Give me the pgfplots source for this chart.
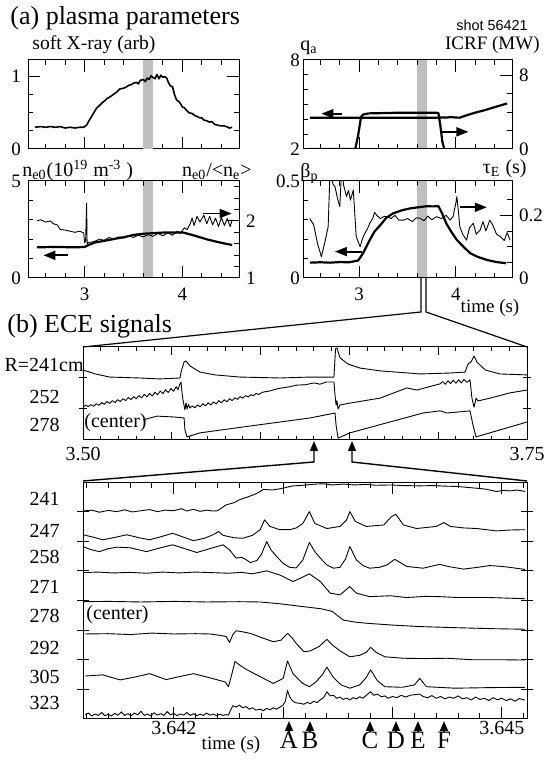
\documentclass[border=0pt]{standalone}
\usepackage{fontspec}
\setmainfont{Liberation Serif}
\newfontfamily\sansf{Liberation Sans}
\usepackage{pgfplots}
\pgfplotsset{compat=1.18}
\usetikzlibrary{arrows.meta}
\tikzset{arr/.style={line width=0.9pt, -{Triangle[length=6pt,width=4.5pt]}}}
\pgfplotsset{
  base/.style={scale only axis, anchor=south west, axis line style={line width=0.5pt},
    tick style={line width=0.5pt, black},
    tick label style={font=\fontsize{9.5}{10}\selectfont}},
  tp/.style={base, xmin=2.42, xmax=4.58, xtick={3,4},
    minor xtick={2.6,2.8,3.2,3.4,3.6,3.8,4.2,4.4},
    major tick length=6pt, minor tick length=2.5pt},
  thickl/.style={line width=1.1pt, black, no markers, line join=round},
  medl/.style={line width=0.8pt, black, no markers, line join=round},
  thinl/.style={line width=0.45pt, black, no markers, line join=round},
}
\begin{document}
\begin{tikzpicture}[x=0.5pt,y=0.5pt]
\path[use as bounding box] (0,0) rectangle (548,763);

% ---------------- (a) top-left: soft X-ray
\begin{axis}[tp, at={(14pt,307pt)}, width=105.5pt, height=44.5pt, ymin=0, ymax=1.23,
  ytick={0,1}, yticklabels={0,1}, minor ytick={0.25,0.5,0.75},
  ytick pos=both, yticklabel pos=left, xticklabels={}]
\fill[gray!50] (3.6,0) rectangle (3.7,1.23);
\addplot[medl] coordinates {(2.49,0.30)(2.55,0.31)(2.60,0.30)(2.65,0.31)(2.70,0.30)(2.75,0.31)(2.80,0.29)(2.85,0.30)(2.90,0.29)(2.95,0.30)(2.99,0.30)(3.02,0.33)(3.04,0.38)(3.08,0.47)(3.12,0.56)(3.15,0.60)(3.18,0.64)(3.20,0.66)(3.23,0.70)(3.26,0.72)(3.30,0.76)(3.33,0.79)(3.36,0.83)(3.40,0.84)(3.43,0.86)(3.45,0.88)(3.48,0.89)(3.50,0.91)(3.53,0.92)(3.55,0.90)(3.57,0.95)(3.60,0.96)(3.62,0.93)(3.64,0.98)(3.66,0.96)(3.68,1.01)(3.70,0.99)(3.72,0.97)(3.74,1.03)(3.76,0.97)(3.78,1.02)(3.80,0.99)(3.82,1.0)(3.84,0.98)(3.86,0.91)(3.88,0.87)(3.90,0.86)(3.92,0.75)(3.94,0.68)(3.96,0.66)(3.98,0.63)(4.0,0.58)(4.02,0.57)(4.04,0.54)(4.07,0.50)(4.10,0.49)(4.13,0.46)(4.15,0.45)(4.18,0.43)(4.20,0.43)(4.22,0.40)(4.25,0.39)(4.28,0.37)(4.30,0.38)(4.33,0.34)(4.36,0.33)(4.39,0.32)(4.42,0.32)(4.45,0.31)(4.48,0.29)(4.51,0.30)};
\end{axis}

% ---------------- top-right: q_a (left) and ICRF (right)
\begin{axis}[tp, at={(151.5pt,307pt)}, width=104.5pt, height=44.5pt, ymin=2, ymax=8,
  ytick={2,8}, yticklabels={2,8}, minor ytick={3,4,5,6,7}, ytick pos=left, xticklabels={},
  yticklabel style={xshift=2pt}]
\fill[gray!50] (3.6,2) rectangle (3.7,8);
\addplot[thickl] coordinates {(2.49,4.11)(3.0,4.11)(3.5,4.11)(3.80,4.11)(3.85,4.13)(3.90,4.12)(3.95,4.15)(4.0,4.12)(4.04,4.11)(4.10,4.25)(4.2,4.45)(4.3,4.62)(4.4,4.82)(4.53,5.07)};
\draw[arr] (2.82,4.38) -- (2.61,4.38);
\end{axis}
\begin{axis}[tp, at={(151.5pt,307pt)}, width=104.5pt, height=44.5pt, ymin=0, ymax=9.7,
  ytick={0,8}, yticklabels={0,8}, minor ytick={2,4,6}, ytick pos=right, yticklabel pos=right, xticklabels={}]
\addplot[thickl] coordinates {(2.49,0)(2.96,0)(2.99,1.5)(3.02,3.5)(3.04,3.75)(3.1,3.88)(3.2,3.9)(3.4,3.95)(3.6,3.95)(3.8,3.95)(3.82,3.9)(3.84,2.5)(3.86,0.8)(3.88,0)};
\draw[arr] (3.85,1.87) -- (4.13,1.87);
\end{axis}

% ---------------- bottom-left: n_e0 (left) and n_e0/<n_e> (right)
\begin{axis}[tp, at={(14pt,242.5pt)}, width=105.5pt, height=48.5pt, ymin=0, ymax=5,
  ytick={0,5}, yticklabels={0,5}, minor ytick={1,2,3,4}, ytick pos=left,
  xticklabels={3,4}, xticklabel style={yshift=-1.3pt}]
\fill[gray!50] (3.6,0) rectangle (3.7,5);
\addplot[thickl] coordinates {(2.51,1.58)(2.7,1.6)(2.9,1.58)(3.0,1.6)(3.04,1.70)(3.1,1.82)(3.15,1.87)(3.25,1.96)(3.33,2.04)(3.42,2.12)(3.50,2.22)(3.6,2.28)(3.7,2.31)(3.8,2.34)(3.9,2.34)(4.01,2.34)(4.1,2.22)(4.18,2.10)(4.26,1.98)(4.35,1.87)(4.43,1.78)(4.51,1.70)};
\draw[arr] (2.83,1.17) -- (2.577,1.17);
\end{axis}
\begin{axis}[tp, at={(14pt,242.5pt)}, width=105.5pt, height=48.5pt, ymin=1, ymax=2.7,
  ytick={1,2}, yticklabels={1,2}, minor ytick={1.2,1.4,1.6,1.8,2.2,2.4,2.6}, ytick pos=right,
  yticklabel pos=right, xticklabels={}]
\addplot[thinl] coordinates {(2.51,2.0)(2.55,2.02)(2.6,1.98)(2.65,2.0)(2.68,1.95)(2.72,1.93)(2.75,1.85)(2.8,1.84)(2.85,1.82)(2.9,1.80)(2.95,1.82)(2.99,1.79)(3.0,1.62)(3.01,1.65)(3.02,2.31)(3.025,1.6)(3.04,1.62)(3.1,1.64)(3.15,1.68)(3.2,1.66)(3.25,1.71)(3.3,1.68)(3.35,1.72)(3.4,1.7)(3.45,1.74)(3.5,1.71)(3.55,1.75)(3.6,1.72)(3.65,1.76)(3.7,1.73)(3.75,1.78)(3.8,1.74)(3.85,1.79)(3.9,1.75)(3.95,1.82)(3.98,1.78)(4.02,1.88)(4.05,1.85)(4.08,1.95)(4.1,2.05)(4.12,1.92)(4.15,2.08)(4.18,1.98)(4.22,2.1)(4.25,1.95)(4.28,2.08)(4.31,1.93)(4.34,2.05)(4.37,1.9)(4.4,2.06)(4.43,1.92)(4.46,2.04)(4.49,1.9)(4.51,2.02)};
\draw[arr] (4.215,2.13) -- (4.505,2.13);
\end{axis}

% ---------------- bottom-right: beta_p (left) and tau_E (right)
\begin{axis}[tp, at={(151.5pt,242.5pt)}, width=104.5pt, height=48.5pt, ymin=0, ymax=0.5,
  ytick={0,0.5}, yticklabels={0,0.5}, minor ytick={0.1,0.2,0.3,0.4}, ytick pos=left,
  xticklabels={3,4}, xticklabel style={yshift=-1.3pt}, yticklabel style={xshift=2pt}]
\fill[gray!50] (3.6,0) rectangle (3.7,0.5);
\addplot[thickl] coordinates {(2.49,0.079)(2.6,0.081)(2.7,0.079)(2.8,0.082)(2.9,0.081)(2.99,0.09)(3.04,0.127)(3.11,0.196)(3.16,0.24)(3.22,0.273)(3.28,0.31)(3.35,0.333)(3.45,0.35)(3.53,0.359)(3.62,0.365)(3.70,0.37)(3.76,0.369)(3.82,0.37)(3.86,0.33)(3.90,0.282)(3.95,0.24)(4.01,0.196)(4.08,0.16)(4.15,0.127)(4.22,0.11)(4.32,0.093)(4.42,0.082)(4.52,0.076)};
\draw[arr] (3.03,0.136) -- (2.75,0.136);
\end{axis}
\begin{axis}[tp, at={(151.5pt,242.5pt)}, width=104.5pt, height=48.5pt, ymin=0, ymax=0.31,
  ytick={0,0.2}, yticklabels={0,0.2}, minor ytick={0.05,0.1,0.15,0.25}, ytick pos=right,
  yticklabel pos=right, xticklabels={}]
\addplot[thinl] coordinates {(2.49,0.19)(2.53,0.17)(2.57,0.11)(2.61,0.068)(2.65,0.12)(2.68,0.164)(2.70,0.35)(2.73,0.3)(2.75,0.292)(2.78,0.25)(2.80,0.228)(2.82,0.35)(2.84,0.296)(2.87,0.26)(2.89,0.28)(2.91,0.249)(2.94,0.281)(2.97,0.132)(3.01,0.10)(3.04,0.13)(3.06,0.143)(3.09,0.16)(3.11,0.175)(3.14,0.19)(3.16,0.21)(3.18,0.201)(3.22,0.19)(3.26,0.197)(3.29,0.196)(3.33,0.19)(3.37,0.2)(3.41,0.185)(3.46,0.185)(3.5,0.19)(3.55,0.18)(3.59,0.192)(3.63,0.191)(3.67,0.183)(3.71,0.198)(3.75,0.186)(3.80,0.196)(3.85,0.19)(3.90,0.2)(3.94,0.185)(3.97,0.196)(4.0,0.24)(4.01,0.26)(4.03,0.2)(4.04,0.164)(4.07,0.14)(4.11,0.121)(4.14,0.16)(4.18,0.175)(4.21,0.14)(4.25,0.153)(4.28,0.18)(4.31,0.15)(4.35,0.185)(4.38,0.17)(4.42,0.14)(4.46,0.132)(4.5,0.12)(4.53,0.145)(4.56,0.121)};
\draw[arr] (4.04,0.226) -- (4.32,0.226);
\end{axis}

% ---------------- (b) middle ECE panel 3.50-3.75 s
\begin{axis}[base, at={(41.5pt,161.5pt)}, width=222pt, height=46.5pt, xmin=3.5, xmax=3.75, ymin=0, ymax=3,
  xtick={3.5,3.55,3.6,3.65,3.7,3.75}, xticklabels={3.50,,,,,3.75}, minor x tick num=4,
  ytick={1,2}, yticklabels={}, ytick align=center, major tick length=4pt, minor tick length=2pt,
  tick label style={font=\fontsize{10}{11}\selectfont}]
\addplot[thinl] coordinates {(3.500,2.26)(3.507,2.13)(3.515,2.03)(3.532,2.0)(3.543,1.97)(3.5546,2.0)(3.5552,2.19)(3.5569,2.52)(3.558,2.55)(3.5602,2.39)(3.5659,2.19)(3.5743,2.10)(3.5884,2.03)(3.6109,2.0)(3.6278,2.03)(3.6413,2.03)(3.6422,2.94)(3.643,2.97)(3.6447,2.65)(3.6492,2.45)(3.656,2.32)(3.6672,2.23)(3.6898,2.13)(3.7066,2.16)(3.7151,2.19)(3.7168,2.45)(3.7185,2.52)(3.7202,2.71)(3.7218,2.52)(3.7264,2.26)(3.7348,2.13)(3.75,2.10)};
\addplot[thinl] coordinates {(3.5000,1.06)(3.5015,1.12)(3.5030,1.08)(3.5045,1.14)(3.5060,1.09)(3.5075,1.17)(3.5090,1.12)(3.5105,1.21)(3.5120,1.15)(3.5135,1.24)(3.5150,1.18)(3.5165,1.27)(3.5180,1.21)(3.5195,1.30)(3.5210,1.24)(3.5225,1.33)(3.5240,1.27)(3.5255,1.37)(3.5270,1.30)(3.5285,1.40)(3.5300,1.33)(3.5315,1.43)(3.5330,1.36)(3.5345,1.47)(3.5360,1.39)(3.5375,1.50)(3.5390,1.42)(3.5405,1.54)(3.5420,1.46)(3.5435,1.58)(3.5450,1.49)(3.5465,1.62)(3.5480,1.53)(3.5495,1.66)(3.5510,1.57)(3.5525,1.72)(3.5535,1.62)(3.5545,1.80)(3.5552,1.86)(3.5558,1.5)(3.5563,1.29)(3.5574,0.97)(3.5580,1.2)(3.5586,1.0)(3.5594,1.15)(3.5602,1.03)(3.5615,1.10)(3.5630,1.04)(3.5645,1.13)(3.5660,1.07)(3.5675,1.17)(3.5690,1.10)(3.5705,1.20)(3.5720,1.13)(3.5735,1.23)(3.5750,1.16)(3.5765,1.27)(3.5780,1.20)(3.5795,1.30)(3.5810,1.23)(3.5825,1.33)(3.5840,1.27)(3.5855,1.36)(3.5870,1.31)(3.5885,1.40)(3.5900,1.35)(3.5915,1.43)(3.5930,1.39)(3.5945,1.46)(3.5960,1.43)(3.5975,1.50)(3.5990,1.47)(3.6010,1.54)(3.605,1.58)(3.61,1.66)(3.6166,1.72)(3.62,1.77)(3.625,1.78)(3.63,1.84)(3.6334,1.80)(3.637,1.87)(3.6413,1.87)(3.6419,1.45)(3.6425,1.13)(3.643,1.26)(3.6436,1.0)(3.6447,1.13)(3.6503,1.19)(3.6672,1.35)(3.6824,1.68)(3.6881,1.61)(3.695,1.72)(3.701,1.81)(3.7025,1.88)(3.704,1.80)(3.7055,1.91)(3.707,1.82)(3.7085,1.93)(3.710,1.83)(3.7115,1.94)(3.713,1.84)(3.7145,1.95)(3.7162,1.86)(3.7179,1.94)(3.719,1.35)(3.7202,1.06)(3.7213,1.35)(3.7224,1.26)(3.7292,1.35)(3.7404,1.52)(3.75,1.61)};
\addplot[thinl] coordinates {(3.5338,0.65)(3.5417,0.77)(3.5518,0.74)(3.5569,0.71)(3.5574,0.32)(3.5586,0.10)(3.5659,0.23)(3.594,0.45)(3.6278,0.71)(3.6419,0.87)(3.6425,0.48)(3.6436,0.06)(3.6503,0.23)(3.6914,0.87)(3.701,0.94)(3.705,0.87)(3.7179,0.94)(3.7196,0.48)(3.7213,0.10)(3.75,0.58)};
\end{axis}

% ---------------- bottom ECE panel (x: ms after 3.640 s)
\begin{axis}[base, at={(41.5pt,22pt)}, width=222pt, height=118.5pt, xmin=1.17, xmax=5.23, ymin=0, ymax=8,
  xtick={2,3,4,5}, xticklabels={3.642,,,3.645},
  minor xtick={1.2,1.4,1.6,1.8,2.2,2.4,2.6,2.8,3.2,3.4,3.6,3.8,4.2,4.4,4.6,4.8,5.2},
  ytick={1,2,3,4,5,6,7}, yticklabels={}, ytick align=center, major tick length=6pt, minor tick length=3pt,
  tick label style={font=\fontsize{10}{11}\selectfont}, xticklabel style={yshift=2.3pt}]
% 241
\addplot[thinl] coordinates {(1.17,7.02)(1.25,7.05)(1.32,6.98)(1.40,7.04)(1.48,7.0)(1.55,7.06)(1.62,6.99)(1.70,7.03)(1.78,7.07)(1.85,7.0)(1.92,7.05)(2.0,7.03)(2.07,7.1)(2.12,7.02)(2.18,7.08)(2.24,7.01)(2.30,7.05)(2.36,7.02)(2.40,7.03)(2.48,7.23)(2.55,7.3)(2.60,7.40)(2.68,7.5)(2.75,7.6)(2.79,7.68)(2.82,7.75)(2.90,7.73)(2.97,7.77)(3.03,7.82)(3.09,7.87)(3.15,7.88)(3.21,7.9)(3.3,7.93)(3.37,7.94)(3.45,7.9)(3.55,7.93)(3.65,7.9)(3.75,7.92)(3.85,7.89)(3.98,7.9)(4.1,7.88)(4.25,7.87)(4.37,7.88)(4.48,7.86)(4.59,7.85)(4.68,7.82)(4.77,7.79)(4.85,7.76)(4.95,7.68)(5.02,7.72)(5.07,7.7)(5.14,7.73)(5.21,7.68)};
% 247
\addplot[thinl] coordinates {(1.17,6.22)(1.25,6.15)(1.35,6.05)(1.45,6.12)(1.57,6.22)(1.68,6.12)(1.78,6.05)(1.88,6.15)(1.99,6.27)(2.08,6.15)(2.18,6.02)(2.28,6.1)(2.36,6.22)(2.41,6.33)(2.45,6.2)(2.55,6.12)(2.63,6.1)(2.72,6.2)(2.79,6.39)(2.83,6.72)(2.88,6.5)(2.97,6.39)(3.06,6.39)(3.12,6.45)(3.18,6.6)(3.24,7.0)(3.29,6.6)(3.40,6.43)(3.52,6.5)(3.58,6.72)(3.61,7.0)(3.66,6.67)(3.76,6.5)(3.92,6.55)(3.99,6.83)(4.03,6.91)(4.10,6.55)(4.22,6.43)(4.40,6.5)(4.47,6.63)(4.53,6.5)(4.65,6.45)(4.77,6.43)(4.95,6.35)(5.08,6.38)(5.21,6.39)};
% 258
\addplot[thinl] coordinates {(1.17,5.82)(1.24,5.72)(1.32,5.65)(1.40,5.75)(1.48,5.8)(1.6,5.78)(1.75,5.65)(1.88,5.78)(1.99,5.88)(2.1,5.75)(2.21,5.62)(2.33,5.75)(2.45,5.88)(2.51,5.71)(2.57,5.43)(2.62,5.46)(2.66,5.38)(2.70,5.28)(2.76,5.35)(2.80,5.55)(2.85,5.99)(2.89,5.7)(2.94,5.49)(3.0,5.25)(3.06,5.12)(3.12,5.1)(3.18,5.37)(3.24,5.96)(3.29,5.65)(3.34,5.43)(3.40,5.2)(3.46,5.09)(3.52,5.12)(3.57,5.4)(3.61,5.82)(3.67,5.37)(3.73,5.18)(3.79,5.09)(3.88,5.12)(3.95,5.2)(4.02,5.39)(4.13,5.15)(4.28,5.09)(4.36,5.16)(4.43,5.22)(4.52,5.14)(4.65,5.06)(4.78,5.12)(4.89,5.18)(5.0,5.15)(5.07,5.12)(5.21,5.05)};
% 271
\addplot[thinl] coordinates {(1.17,4.94)(1.3,4.96)(1.45,4.93)(1.6,4.95)(1.75,4.92)(1.9,4.96)(2.05,4.93)(2.2,4.96)(2.35,4.94)(2.5,4.92)(2.62,4.95)(2.72,4.9)(2.85,5.0)(2.97,4.86)(3.09,4.64)(3.15,4.74)(3.24,4.9)(3.34,4.64)(3.43,4.25)(3.52,4.19)(3.61,4.47)(3.67,4.25)(3.79,4.13)(3.98,4.16)(4.13,4.1)(4.3,4.14)(4.43,4.13)(4.6,4.1)(4.89,4.1)(5.21,4.06)};
% 278
\addplot[thinl] coordinates {(1.17,3.96)(1.4,3.97)(1.7,3.95)(2.0,3.97)(2.3,3.95)(2.6,3.96)(2.79,3.95)(2.97,3.89)(3.19,3.79)(3.35,3.72)(3.45,3.63)(3.55,3.34)(3.66,3.27)(3.77,3.23)(4.0,3.17)(4.25,3.12)(4.6,3.08)(4.9,3.05)(5.21,3.03)};
% 292
\addplot[thinl] coordinates {(1.19,2.87)(1.4,2.88)(1.6,2.85)(1.8,2.9)(2.0,2.87)(2.2,2.88)(2.33,2.87)(2.43,2.82)(2.48,2.78)(2.51,2.58)(2.54,2.85)(2.57,2.98)(2.62,2.95)(2.70,2.89)(2.80,2.75)(2.91,2.61)(2.98,2.66)(3.04,2.89)(3.08,2.75)(3.12,2.55)(3.19,2.27)(3.25,2.3)(3.33,2.45)(3.40,2.69)(3.45,2.5)(3.52,2.3)(3.61,2.1)(3.70,2.15)(3.76,2.25)(3.80,2.42)(3.85,2.25)(3.93,2.1)(4.1,2.05)(4.3,2.04)(4.5,2.05)(4.73,2.0)(5.0,2.0)(5.21,1.99)};
% 305
\addplot[thinl] coordinates {(1.19,1.45)(1.35,1.49)(1.51,1.32)(1.65,1.42)(1.78,1.53)(1.93,1.33)(2.05,1.43)(2.18,1.53)(2.30,1.42)(2.39,1.33)(2.47,1.25)(2.50,1.09)(2.53,1.5)(2.56,1.94)(2.61,1.8)(2.67,1.66)(2.79,1.43)(2.91,1.2)(3.0,1.37)(3.04,1.96)(3.09,1.53)(3.18,1.2)(3.24,1.09)(3.30,1.25)(3.36,1.5)(3.40,1.75)(3.46,1.4)(3.53,1.15)(3.61,1.04)(3.70,1.15)(3.76,1.4)(3.80,1.66)(3.86,1.3)(3.93,1.09)(4.09,1.07)(4.2,1.15)(4.25,1.37)(4.31,1.09)(4.57,1.04)(4.9,1.06)(5.21,1.07)};
% 323
\addplot[thinl] coordinates {(1.19,0.14)(1.22,0.2)(1.25,0.1)(1.28,0.17)(1.31,0.12)(1.34,0.22)(1.37,0.11)(1.40,0.16)(1.43,0.1)(1.46,0.19)(1.49,0.13)(1.52,0.24)(1.55,0.12)(1.58,0.18)(1.61,0.11)(1.64,0.2)(1.67,0.14)(1.70,0.26)(1.73,0.12)(1.76,0.17)(1.79,0.1)(1.82,0.21)(1.85,0.13)(1.88,0.18)(1.91,0.12)(1.94,0.25)(1.97,0.14)(2.0,0.19)(2.03,0.11)(2.06,0.17)(2.09,0.13)(2.12,0.22)(2.15,0.12)(2.18,0.18)(2.21,0.11)(2.24,0.16)(2.27,0.12)(2.30,0.2)(2.33,0.13)(2.36,0.17)(2.39,0.11)(2.42,0.16)(2.45,0.12)(2.48,0.15)(2.50,0.13)(2.52,0.3)(2.54,0.45)(2.57,0.4)(2.60,0.47)(2.63,0.38)(2.66,0.42)(2.69,0.33)(2.72,0.38)(2.75,0.3)(2.79,0.33)(2.82,0.28)(2.85,0.36)(2.88,0.31)(2.91,0.38)(2.94,0.33)(2.97,0.4)(3.0,0.47)(3.02,0.6)(3.04,0.96)(3.06,0.75)(3.08,0.64)(3.11,0.55)(3.15,0.53)(3.19,0.5)(3.22,0.56)(3.25,0.52)(3.28,0.6)(3.31,0.55)(3.34,0.65)(3.37,0.72)(3.40,0.92)(3.43,0.78)(3.46,0.8)(3.49,0.7)(3.52,0.74)(3.55,0.66)(3.58,0.71)(3.61,0.64)(3.64,0.72)(3.67,0.68)(3.70,0.75)(3.73,0.7)(3.76,0.8)(3.80,0.92)(3.83,0.8)(3.86,0.84)(3.90,0.75)(3.93,0.78)(3.96,0.7)(4.0,0.76)(4.04,0.72)(4.08,0.8)(4.12,0.74)(4.16,0.8)(4.2,0.82)(4.25,0.84)(4.28,0.76)(4.32,0.72)(4.36,0.79)(4.40,0.7)(4.44,0.76)(4.48,0.68)(4.52,0.74)(4.56,0.7)(4.60,0.78)(4.64,0.68)(4.68,0.72)(4.72,0.64)(4.76,0.74)(4.80,0.66)(4.84,0.7)(4.88,0.62)(4.92,0.72)(4.96,0.65)(5.0,0.7)(5.04,0.62)(5.08,0.68)(5.12,0.6)(5.16,0.69)(5.21,0.64)};
\end{axis}

% ---------------- texts
\node[anchor=base west, inner sep=0, font=\fontsize{13}{15}\selectfont] at (10,738) {(a) plasma parameters};
\node[anchor=base west, inner sep=0, font=\fontsize{9.8}{11}\selectfont] at (32,713) {soft X-ray (arb)};
\node[anchor=base east, inner sep=0, font=\sansf\fontsize{7.2}{8}\selectfont] at (528,732) {shot 56421};
\node[anchor=base east, inner sep=0, font=\fontsize{9.5}{11}\selectfont] at (540,713) {ICRF (MW)};
\node[anchor=base west, inner sep=0, font=\fontsize{10}{11}\selectfont] at (300,712) {q\textsubscript{a}};
\node[anchor=base west, inner sep=0, font=\fontsize{10}{11}\selectfont] at (22,586) {n\textsubscript{e0}(10\textsuperscript{19} m\textsuperscript{-3} )};
\node[anchor=base east, inner sep=0, font=\fontsize{10}{11}\selectfont] at (252,586) {n\textsubscript{e0}/<n\textsubscript{e}>};
\node[anchor=base west, inner sep=0, font=\fontsize{10}{11}\selectfont] at (300,585) {β\textsubscript{p}};
\node[anchor=base east, inner sep=0, font=\fontsize{10}{11}\selectfont] at (527,589) {τ\textsubscript{E} (s)};
\node[anchor=base, inner sep=0, font=\fontsize{9.5}{11}\selectfont] at (490,450) {time (s)};
\node[anchor=base west, inner sep=0, font=\fontsize{13}{15}\selectfont] at (7,430) {(b) ECE signals};

\node[anchor=base east, inner sep=0, font=\fontsize{10}{11}\selectfont] at (84,391) {R=241cm};
\node[anchor=base east, inner sep=0, font=\fontsize{10}{11}\selectfont] at (60,359) {252};
\node[anchor=base east, inner sep=0, font=\fontsize{10}{11}\selectfont] at (60,331) {278};
\node[anchor=base west, inner sep=0, font=\fontsize{10}{11}\selectfont] at (84,335) {(center)};

\foreach \lab/\yy in {241/257.5,247/225.5,258/199.5,271/169.5,278/140.5,292/108.5,305/79.5,323/53.5}
  \node[anchor=base east, inner sep=0, font=\fontsize{10}{11}\selectfont] at (60,\yy) {\lab};
\node[anchor=base west, inner sep=0, font=\fontsize{10}{11}\selectfont] at (86,143) {(center)};
\node[anchor=base, inner sep=0, font=\fontsize{9.5}{11}\selectfont] at (231,13) {time (s)};
\foreach \lab/\xx in {A/289,B/310,C/370,D/396,E/418,F/444} {
  \node[anchor=base, inner sep=0, font=\fontsize{12.5}{14}\selectfont] at (\xx,14) {\lab};
  \draw[line width=0.8pt, -{Triangle[length=5pt,width=4pt]}] (\xx,31) -- (\xx,42);
}

% ---------------- zoom connector lines
\draw[line width=0.6pt] (421,485) -- (421,451) -- (83,416);
\draw[line width=0.6pt] (426,485) -- (426,451) -- (527,416);
\draw[line width=0.7pt, -{Triangle[length=5pt,width=4pt]}] (83,282) -- (314,301) -- (314,322);
\draw[line width=0.7pt, -{Triangle[length=5pt,width=4pt]}] (527,282) -- (352,301) -- (352,322);
\end{tikzpicture}
\end{document}
